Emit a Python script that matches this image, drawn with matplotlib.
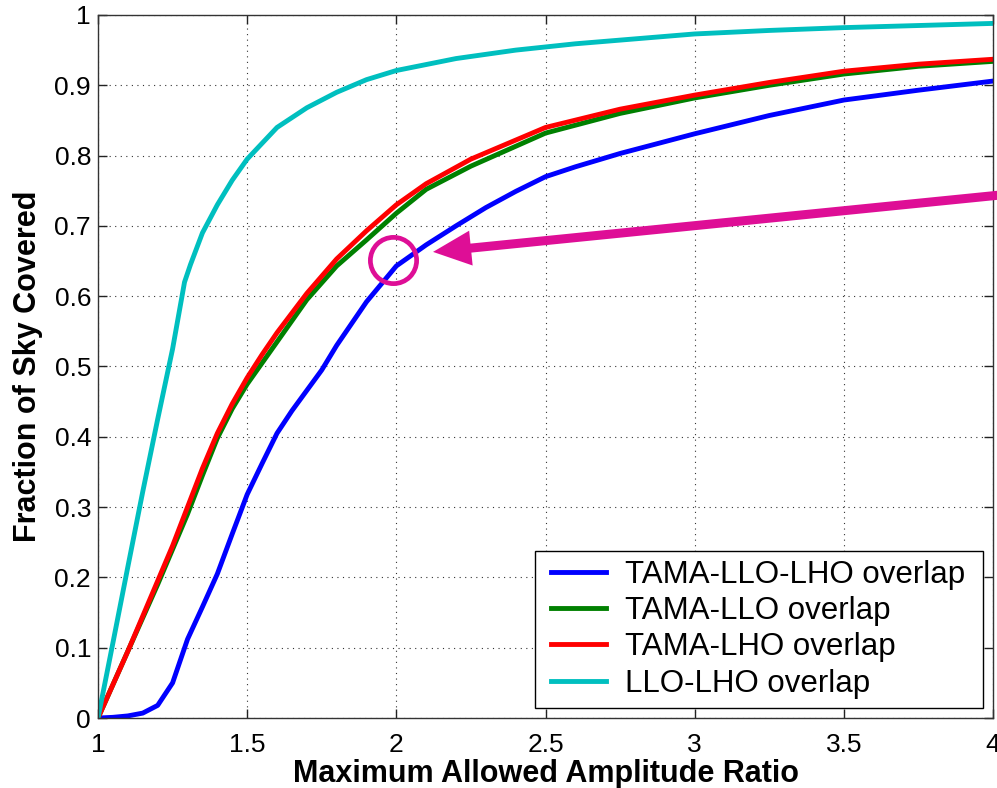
import matplotlib
matplotlib.use('Agg')
import matplotlib.pyplot as plt
from matplotlib.legend_handler import HandlerLine2D

plt.rcParams['font.family'] = ['Liberation Sans', 'DejaVu Sans']

# curves
x_blue = [1.0, 1.05, 1.1, 1.15, 1.2, 1.25, 1.3, 1.35, 1.4, 1.45, 1.5, 1.55, 1.6,
          1.65, 1.7, 1.75, 1.8, 1.9, 2.0, 2.1, 2.2, 2.3, 2.4, 2.5, 2.6, 2.75,
          3.0, 3.25, 3.5, 3.75, 4.0]
y_blue = [0, 0.001, 0.003, 0.007, 0.018, 0.05, 0.112, 0.158, 0.205, 0.262, 0.318,
          0.362, 0.405, 0.437, 0.466, 0.495, 0.53, 0.592, 0.643, 0.673, 0.70,
          0.726, 0.749, 0.77, 0.784, 0.803, 0.831, 0.857, 0.879, 0.893, 0.906]

x_pair = [1.0, 1.1, 1.2, 1.25, 1.3, 1.35, 1.4, 1.45, 1.5, 1.55, 1.6, 1.7, 1.8,
          1.9, 2.0, 2.1, 2.25, 2.5, 2.75, 3.0, 3.25, 3.5, 3.75, 4.0]
y_green = [0, 0.095, 0.19, 0.24, 0.29, 0.345, 0.398, 0.44, 0.475, 0.505, 0.535,
           0.595, 0.643, 0.68, 0.718, 0.752, 0.785, 0.832, 0.86, 0.882, 0.9,
           0.916, 0.927, 0.934]
y_red = [0, 0.095, 0.195, 0.245, 0.3, 0.355, 0.405, 0.447, 0.484, 0.517, 0.548,
         0.604, 0.653, 0.693, 0.73, 0.76, 0.795, 0.84, 0.866, 0.886, 0.904,
         0.92, 0.93, 0.937]

x_cyan = [1.0, 1.05, 1.1, 1.15, 1.2, 1.25, 1.29, 1.31, 1.35, 1.4, 1.45, 1.5,
          1.6, 1.7, 1.8, 1.9, 2.0, 2.2, 2.4, 2.6, 2.8, 3.0, 3.25, 3.5, 3.75, 4.0]
y_cyan = [0, 0.107, 0.215, 0.322, 0.425, 0.525, 0.62, 0.645, 0.69, 0.73, 0.765,
          0.795, 0.84, 0.868, 0.89, 0.908, 0.921, 0.938, 0.95, 0.959, 0.966,
          0.973, 0.978, 0.982, 0.985, 0.988]

labels = ['TAMA-LLO-LHO overlap', 'TAMA-LLO overlap', 'TAMA-LHO overlap',
          'LLO-LHO overlap']

xticks = [1, 1.5, 2, 2.5, 3, 3.5, 4]
xtick_labels = ['1', '1.5', '2', '2.5', '3', '3.5', '4']
yticks = [0, 0.1, 0.2, 0.3, 0.4, 0.5, 0.6, 0.7, 0.8, 0.9, 1]
ytick_labels = ['0', '0.1', '0.2', '0.3', '0.4', '0.5', '0.6', '0.7', '0.8',
                '0.9', '1']

circle_xy = (1.99, 0.651)
arrow_head = (2.123, 0.663)
arrow_tail = (4.05, 0.745)

fig = plt.figure(figsize=(9.97, 7.88), dpi=100)
ax = fig.add_axes([0.0983, 0.0888, 0.8977, 0.8922])

lw = 3.5
ax.plot(x_blue, y_blue, color='#0000ff', lw=lw, label=labels[0])
ax.plot(x_pair, y_green, color='#008000', lw=lw, label=labels[1])
ax.plot(x_pair, y_red, color='#ff0000', lw=lw, label=labels[2])
ax.plot(x_cyan, y_cyan, color='#00bfbf', lw=lw, label=labels[3])

ax.set_xlim(1, 4)
ax.set_ylim(0, 1)
ax.set_xticks(xticks)
ax.set_xticklabels(xtick_labels)
ax.set_yticks(yticks)
ax.set_yticklabels(ytick_labels)
ax.tick_params(direction='in', length=6.5, width=1, top=True, right=True,
               labelsize=19, color='#222222')
ax.tick_params(axis='x', pad=10.5)
ax.tick_params(axis='y', pad=5)
ax.grid(True, color='#333333', lw=0.8, linestyle=(0, (1, 4)))
for s in ax.spines.values():
    s.set_color('#333333')
    s.set_linewidth(1)

ax.set_xlabel('Maximum Allowed Amplitude Ratio', fontsize=22,
              fontweight='bold', labelpad=2)
ax.set_ylabel('Fraction of Sky Covered', fontsize=22, fontweight='bold',
              labelpad=8)

# magenta annotation
ax.plot(*circle_xy, marker='o', ms=33.3, mfc='none', mec='#de0e96', mew=3.4,
        clip_on=False)
ax.annotate('', xy=arrow_head, xytext=arrow_tail, annotation_clip=False,
            arrowprops=dict(arrowstyle='simple,head_length=2.74,head_width=2.52,tail_width=0.65',
                            color='#de0e96', lw=0, shrinkA=0, shrinkB=0,
                            mutation_scale=10))

leg = ax.legend(loc='lower right', bbox_to_anchor=(0.9888, 0.0142),
                borderaxespad=0, fontsize=22.5, handlelength=1.97,
                handletextpad=0.61, labelspacing=0.2, borderpad=0.3,
                fancybox=False, framealpha=1,
                handler_map={plt.Line2D: HandlerLine2D(xpad=0.21)})
for t in leg.get_texts():
    t.set_text(t.get_text() + ' ')
leg.get_frame().set_edgecolor('black')
leg.get_frame().set_linewidth(1)

fig.savefig('out.png', dpi=100)
